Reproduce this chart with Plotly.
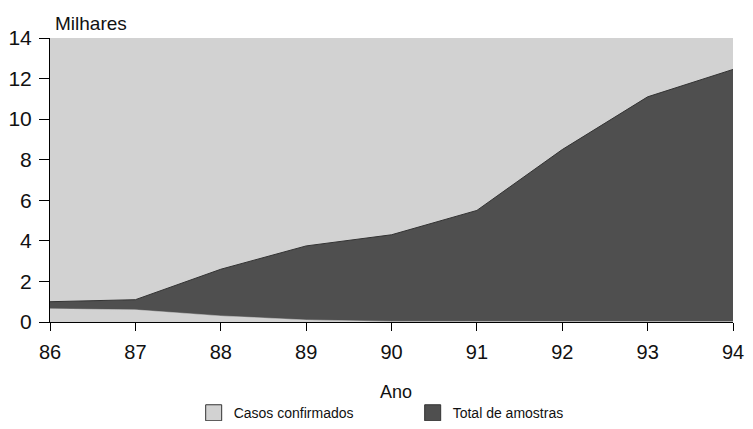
import plotly.graph_objects as go

# dados (milhares)
anos = [86, 87, 88, 89, 90, 91, 92, 93, 94]
total_amostras = [1.0, 1.1, 2.6, 3.75, 4.3, 5.5, 8.5, 11.1, 12.45]
casos_confirmados = [0.65, 0.6, 0.3, 0.1, 0.03, 0.02, 0.02, 0.02, 0.02]
y_ticks = [0, 2, 4, 6, 8, 10, 12, 14]

cor_clara = '#d2d2d2'
cor_escura = '#4f4f4f'

fig = go.Figure()

# area total (escura) desenhada primeiro, casos por cima
fig.add_trace(go.Scatter(
    x=anos, y=total_amostras, mode='lines', fill='tozeroy',
    fillcolor=cor_escura, line=dict(color='#333333', width=1),
    showlegend=False, hoverinfo='skip'
))
fig.add_trace(go.Scatter(
    x=anos, y=casos_confirmados, mode='lines', fill='tozeroy',
    fillcolor=cor_clara, line=dict(color=cor_clara, width=0.5),
    showlegend=False, hoverinfo='skip'
))

# entradas da legenda
fig.add_trace(go.Scatter(
    x=[None], y=[None], mode='markers', name='Casos confirmados',
    marker=dict(symbol='square', size=16, color=cor_clara, line=dict(color='#333333', width=1))
))
fig.add_trace(go.Scatter(
    x=[None], y=[None], mode='markers', name='Total de amostras',
    marker=dict(symbol='square', size=16, color=cor_escura, line=dict(color='#333333', width=1))
))

# a pagina tem margem de 8px no body
fig.update_layout(
    width=737, height=413,
    margin=dict(l=42, r=12, t=30, b=99),
    paper_bgcolor='white',
    plot_bgcolor=cor_clara,
    font=dict(family='Liberation Sans, Arial, sans-serif', color='#111111'),
    legend=dict(orientation='h', x=0.531, xanchor='center',
                yref='container', y=0.019, yanchor='middle',
                font=dict(size=14), entrywidth=174, entrywidthmode='pixels'),
    annotations=[
        dict(text='Milhares', xref='paper', yref='paper', x=0.004, y=1.05,
             xanchor='left', yanchor='middle', showarrow=False, font=dict(size=19)),
        dict(text='Ano', xref='paper', yref='paper', x=0.507, y=-0.246,
             xanchor='center', yanchor='middle', showarrow=False, font=dict(size=18)),
    ],
)

fig.update_xaxes(
    range=[86, 94], tickvals=anos, ticktext=[str(a) for a in anos],
    ticks='outside', ticklen=8, tickcolor='black', showline=True, linecolor='black',
    showgrid=False, zeroline=False, tickfont=dict(size=20), automargin=False,
    ticklabelstandoff=4
)
fig.update_yaxes(
    range=[0, 14], tickvals=y_ticks, ticks='outside', ticklen=10, tickcolor='black',
    showline=True, linecolor='black', showgrid=False, zeroline=False,
    tickfont=dict(size=21), automargin=False, ticklabelstandoff=3
)

fig.write_html("out.html")
